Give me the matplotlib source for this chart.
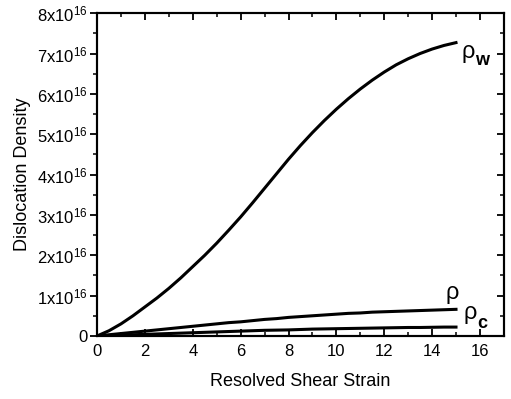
import matplotlib
matplotlib.use("Agg")
import matplotlib.pyplot as plt
import numpy as np
from matplotlib.ticker import MultipleLocator, FuncFormatter

plt.rcParams['font.family'] = ['Liberation Sans', 'DejaVu Sans']
plt.rcParams['mathtext.fontset'] = 'custom'
plt.rcParams['mathtext.rm'] = 'Liberation Sans'
plt.rcParams['mathtext.it'] = 'Liberation Sans:italic'
plt.rcParams['mathtext.bf'] = 'Liberation Sans:bold'

# Данные (плотность в единицах 1e16)
strain = [0, 0.5, 1, 1.5, 2, 2.5, 3, 3.5, 4, 4.5, 5, 5.5, 6, 6.5, 7, 7.5,
          8, 8.5, 9, 9.5, 10, 10.5, 11, 11.5, 12, 12.5, 13, 13.5, 14, 14.5, 15]
rho_w = [0, 0.13, 0.30, 0.50, 0.72, 0.94, 1.18, 1.44, 1.72, 2.00, 2.30, 2.62,
         2.95, 3.30, 3.66, 4.02, 4.38, 4.72, 5.04, 5.34, 5.62, 5.88, 6.12, 6.34,
         6.54, 6.72, 6.87, 7.00, 7.11, 7.20, 7.27]
rho = [0, 0.03, 0.06, 0.09, 0.12, 0.15, 0.18, 0.21, 0.24, 0.27, 0.30, 0.33,
       0.35, 0.38, 0.41, 0.43, 0.46, 0.48, 0.50, 0.52, 0.54, 0.56, 0.57, 0.59,
       0.60, 0.61, 0.62, 0.63, 0.64, 0.65, 0.66]
rho_c = [0, 0.01, 0.02, 0.03, 0.04, 0.05, 0.06, 0.07, 0.08, 0.09, 0.10, 0.11,
         0.12, 0.13, 0.14, 0.145, 0.15, 0.16, 0.17, 0.175, 0.18, 0.185, 0.19, 0.195,
         0.20, 0.205, 0.21, 0.21, 0.215, 0.22, 0.22]

scale = 1e16

fig = plt.figure(figsize=(5.11, 3.99), dpi=100)
ax = fig.add_axes([0.19, 0.158, 0.796, 0.809])

for ys in (rho_w, rho, rho_c):
    ax.plot(strain, np.array(ys) * scale, color='black', linewidth=2.2,
            solid_joinstyle='round')

ax.set_xlim(0, 17)
ax.set_ylim(0, 8e16)

ax.xaxis.set_major_locator(MultipleLocator(2))
ax.xaxis.set_minor_locator(MultipleLocator(1))
ax.yaxis.set_major_locator(MultipleLocator(1e16))
ax.yaxis.set_minor_locator(MultipleLocator(0.5e16))

def ylab(v, pos):
    n = int(round(v / scale))
    if n == 0:
        return '0'
    return '%dx10$^{16}$' % n

ax.yaxis.set_major_formatter(FuncFormatter(ylab))

ax.tick_params(axis='x', which='both', direction='in', top=True, labelsize=12, pad=6)
ax.tick_params(axis='y', which='both', direction='out', labelsize=12, pad=2)
ax.tick_params(which='major', length=5, width=1.3)
ax.tick_params(which='minor', length=3, width=1.1)

# правая ось — тики внутрь
ax2 = ax.twinx()
ax2.set_ylim(ax.get_ylim())
ax2.yaxis.set_major_locator(MultipleLocator(1e16))
ax2.yaxis.set_minor_locator(MultipleLocator(0.5e16))
ax2.tick_params(axis='y', which='both', direction='in', labelright=False)
ax2.tick_params(which='major', length=5, width=1.3)
ax2.tick_params(which='minor', length=3, width=1.1)

for a in (ax, ax2):
    for s in a.spines.values():
        s.set_linewidth(1.5)

ax.set_xlabel('Resolved Shear Strain', fontsize=13, labelpad=10)
ax.set_ylabel('Dislocation Density', fontsize=13, labelpad=4)

# подписи кривых: прямое ρ и жирный индекс
ax.text(15.25, 7.03e16, 'ρ', fontsize=17, va='center', ha='left')
ax.text(15.8, 6.83e16, 'w', fontsize=13, fontweight='bold', va='center', ha='left')
ax.text(14.55, 1.07e16, 'ρ', fontsize=17, va='center', ha='left')
ax.text(15.3, 0.57e16, 'ρ', fontsize=17, va='center', ha='left')
ax.text(15.9, 0.3e16, 'c', fontsize=13, fontweight='bold', va='center', ha='left')

fig.savefig('out.png', dpi=100)
